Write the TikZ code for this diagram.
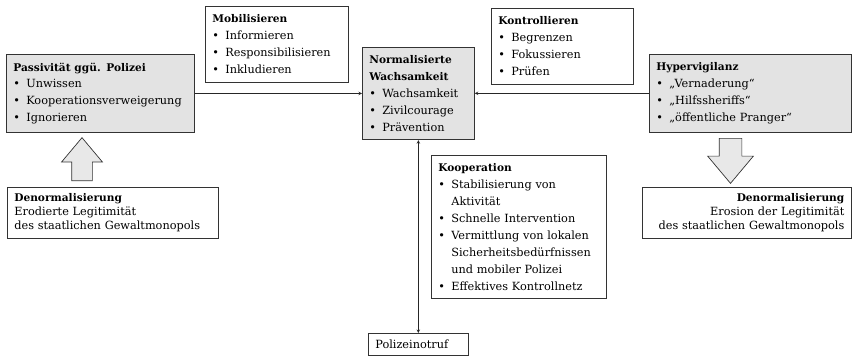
\documentclass[tikz,border=0pt]{standalone}
\usepackage{fontspec}
\setmainfont{DejaVu Serif}
\usepackage{tikz}
\usetikzlibrary{shapes.arrows,arrows,positioning}
\tikzstyle{box} = [draw=black!80, line width=0.7pt, rectangle, anchor=north west,
align=left, inner xsep=7pt, inner ysep=8.3pt,
font=\fontsize{11.3pt}{16.9pt}\selectfont]
\tikzstyle{greybox} = [box, fill=black!11]
\tikzstyle{plainbox} = [box, inner ysep=6.5pt, font=\fontsize{11.3pt}{13.6pt}\selectfont]
\tikzstyle{blockarrow} = [draw=black!80, line width=0.7pt, fill=black!9,
single arrow, single arrow tip angle=80, single arrow head indent=0pt,
inner xsep=0pt, anchor=tail]
\tikzstyle{arrow} = [line width=0.6pt, draw=black!85, ->, >=stealth]
\tikzset{>=stealth}
\newcommand{\hd}[1]{\textbf{\fontsize{10.6pt}{10.6pt}\selectfont #1}}
\newcommand{\itm}{\makebox[13pt][l]{\textbullet}}
\newcommand{\ind}{\hspace*{13pt}}

\begin{document}
\begin{tikzpicture}[x=1pt, y=-1pt]
    \useasboundingbox (0,0) rectangle (853,360);
    % upper row
    \node[greybox, text width=174pt] (passiv) at (6,54)
        {\hd{Passivität ggü. Polizei}\\ \itm Unwissen\\
         \itm Kooperationsverweigerung\\ \itm Ignorieren};
    \node[box, text width=129pt] (mobil) at (205,6)
        {\hd{Mobilisieren}\\ \itm Informieren\\
         \itm Responsibilisieren\\ \itm Inkludieren};
    \node[greybox, text width=98pt] (normal) at (362,47)
        {\hd{Normalisierte}\\ \hd{Wachsamkeit}\\ \itm Wachsamkeit\\
         \itm Zivilcourage\\ \itm Prävention};
    \node[box, text width=128pt] (kontroll) at (491,8)
        {\hd{Kontrollieren}\\ \itm Begrenzen\\
         \itm Fokussieren\\ \itm Prüfen};
    \node[greybox, text width=188pt] (hyper) at (649,54)
        {\hd{Hypervigilanz}\\ \itm „Vernaderung“\\
         \itm „Hilfssheriffs“\\ \itm „öffentliche Pranger“};
    % lower row
    \node[plainbox, text width=197pt] (denormL) at (7,187)
        {\hd{Denormalisierung}\\ Erodierte Legitimität\\
         des staatlichen Gewaltmonopols};
    \node[plainbox, text width=195pt, align=right] (denormR) at (642,187)
        {\hd{Denormalisierung}\\ Erosion der Legitimität\\
         des staatlichen Gewaltmonopols};
    \node[box, text width=161pt] (koop) at (431,155)
        {\hd{Kooperation}\\ \itm Stabilisierung von\\ \ind Aktivität\\
         \itm Schnelle Intervention\\ \itm Vermittlung von lokalen\\
         \ind Sicherheitsbedürfnissen\\ \ind und mobiler Polizei\\
         \itm Effektives Kontrollnetz};
    \node[plainbox, text width=86pt] (notruf) at (368,333) {Polizeinotruf};
    % block arrows
    \node[blockarrow, rotate=90, minimum height=43pt, minimum width=40pt,
        inner ysep=10pt, single arrow head extend=10pt] (uparr) at (82,181) {};
    \node[blockarrow, rotate=-90, minimum height=45pt, minimum width=45pt,
        inner ysep=11pt, single arrow head extend=11.5pt] (downarr) at (730.5,138) {};
    % connectors
    \draw[arrow] (passiv.east) -- (passiv.east -| normal.west);
    \draw[arrow] (hyper.west) -- (hyper.west -| normal.east);
    \draw[arrow, <->] (normal.south) -- (notruf.north);
\end{tikzpicture}
\end{document}
